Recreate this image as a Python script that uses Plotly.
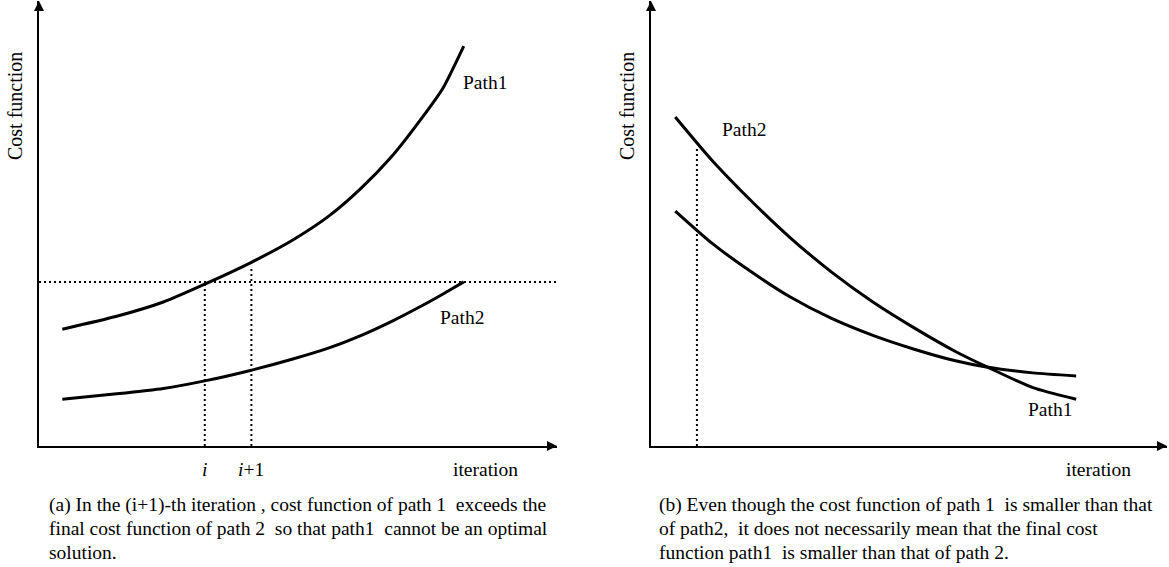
import numpy as np
import plotly.graph_objects as go

W, H = 1169, 567

# ---------------- data (arbitrary units) ----------------
# Panel (a)
iter_a = [0.45, 1.5, 2.4, 3.2, 4.1, 4.9, 5.6, 6.2, 6.8, 7.4, 7.8, 8.2]
path1_a = [2.62, 2.91, 3.23, 3.63, 4.12, 4.62, 5.16, 5.76, 6.48, 7.37, 8.03, 8.97]
path2_a = [1.05, 1.17, 1.29, 1.46, 1.70, 1.95, 2.20, 2.47, 2.79, 3.15, 3.41, 3.68]
i_iter = 3.2
i1_iter = 4.1
# Panel (b)
iter_b = [0.47, 1.18, 1.95, 2.7, 3.5, 4.3, 5.1, 5.9, 6.5, 7.4, 8.24]
path1_b = [5.27, 4.55, 3.90, 3.34, 2.86, 2.48, 2.17, 1.91, 1.77, 1.64, 1.57]
path2_b = [7.38, 6.41, 5.49, 4.67, 3.90, 3.23, 2.65, 2.12, 1.78, 1.31, 1.05]
mark_b = 0.89

XR = 10.0
YR = 9.98

tick_labels_a = ["<i>i</i>", "<i>i</i>+1"]
caption_a = [
    "(a) In the (i+1)-th iteration , cost function of path 1\u00a0 exceeds the",
    "final cost function of path 2\u00a0 so that path1\u00a0 cannot be an optimal",
    "solution.",
]
caption_b = [
    "(b) Even though the cost function of path 1\u00a0 is smaller than that",
    "of path2,\u00a0 it does not necessarily mean that the final cost",
    "function path1\u00a0 is smaller than that of path 2.",
]

FONT = "Liberation Serif, Times New Roman, serif"
FS = 19.5
BLACK = "#000000"

fig = go.Figure()

curve = dict(color=BLACK, width=3)
dotted = dict(color=BLACK, width=2, dash="2px,3px")

# ---- panel (a)
fig.add_trace(go.Scatter(x=iter_a, y=path1_a, mode="lines", line=dict(curve, shape="spline", smoothing=0.6),
                         xaxis="x", yaxis="y", hoverinfo="skip"))
fig.add_trace(go.Scatter(x=iter_a, y=path2_a, mode="lines", line=dict(curve, shape="spline", smoothing=0.6),
                         xaxis="x", yaxis="y", hoverinfo="skip"))
thr = path2_a[-1]
fig.add_trace(go.Scatter(x=[0, XR], y=[thr, thr], mode="lines", line=dotted, xaxis="x", yaxis="y", hoverinfo="skip"))
for xv in (i_iter, i1_iter):
    top = float(np.interp(xv, iter_a, path1_a))
    top = min(top, thr) if xv == i_iter else top - 0.1
    fig.add_trace(go.Scatter(x=[xv, xv], y=[0, top], mode="lines", line=dotted, xaxis="x", yaxis="y", hoverinfo="skip"))

# ---- panel (b)
fig.add_trace(go.Scatter(x=iter_b, y=path1_b, mode="lines", line=dict(curve, shape="spline", smoothing=0.6),
                         xaxis="x2", yaxis="y2", hoverinfo="skip"))
fig.add_trace(go.Scatter(x=iter_b, y=path2_b, mode="lines", line=dict(curve, shape="spline", smoothing=0.6),
                         xaxis="x2", yaxis="y2", hoverinfo="skip"))
topb = float(np.interp(mark_b, iter_b, path2_b)) - 0.1
fig.add_trace(go.Scatter(x=[mark_b, mark_b], y=[0, topb], mode="lines", line=dotted, xaxis="x2", yaxis="y2", hoverinfo="skip"))

# ---- axis arrow heads
for xa, ya in (("x", "y"), ("x2", "y2")):
    fig.add_trace(go.Scatter(x=[0, XR], y=[YR, 0], mode="markers", cliponaxis=False,
                             marker=dict(symbol=["arrow-up", "arrow-right"], size=10, color=BLACK,
                                         line=dict(width=0)),
                             xaxis=xa, yaxis=ya, hoverinfo="skip"))

ax_common = dict(showgrid=False, zeroline=False, showticklabels=False, ticks="",
                 showline=True, linecolor=BLACK, linewidth=1.5, fixedrange=True)
y_dom = [1 - 446 / H, 1 - 1 / H]

fig.update_layout(
    width=W, height=H, autosize=False,
    margin=dict(l=0, r=0, t=0, b=0),
    paper_bgcolor="white", plot_bgcolor="white",
    showlegend=False,
    font=dict(family=FONT, size=FS, color=BLACK),
    xaxis=dict(ax_common, domain=[39 / W, 557 / W], range=[0, XR], anchor="y"),
    yaxis=dict(ax_common, domain=y_dom, range=[0, YR], anchor="x"),
    xaxis2=dict(ax_common, domain=[651 / W, 1167 / W], range=[0, XR], anchor="y2"),
    yaxis2=dict(ax_common, domain=y_dom, range=[0, YR], anchor="x2"),
)

ann = []
def txt(text, x, y, xref, yref, **kw):
    d = dict(text=text, x=x, y=y, xref=xref, yref=yref, showarrow=False,
             font=dict(family=FONT, size=FS, color=BLACK))
    d.update(kw)
    ann.append(d)

# y titles
txt("Cost function", 15 / W, 1 - 106 / H, "paper", "paper", textangle=-90, xanchor="center", yanchor="middle",
    font=dict(family=FONT, size=20, color=BLACK))
txt("Cost function", 627 / W, 1 - 106 / H, "paper", "paper", textangle=-90, xanchor="center", yanchor="middle",
    font=dict(family=FONT, size=20, color=BLACK))

# panel (a) labels
txt("Path1", 8.61, 8.16, "x", "y")
txt("Path2", 8.17, 2.89, "x", "y")
txt(tick_labels_a[0], i_iter, 0, "x", "y", yshift=-24)
txt(tick_labels_a[1], i1_iter, 0, "x", "y", yshift=-24)
txt("iteration", 8.61, 0, "x", "y", yshift=-24)

# panel (b) labels
txt("Path2", 1.80, 7.09, "x2", "y2")
txt("Path1", 7.73, 0.81, "x2", "y2")
txt("iteration", 8.68, 0, "x2", "y2", yshift=-24)

# captions
for k, (la, lb) in enumerate(zip(caption_a, caption_b)):
    yy = 1 - (505 + 23.5 * k) / H
    txt(la, 47 / W, yy, "paper", "paper", xanchor="left", yanchor="middle")
    txt(lb, 657 / W, yy, "paper", "paper", xanchor="left", yanchor="middle")

fig.update_layout(annotations=ann)

fig.write_html("out.html", config={"displayModeBar": False},
               post_script="document.body.style.margin='0';document.body.style.overflow='hidden';")
